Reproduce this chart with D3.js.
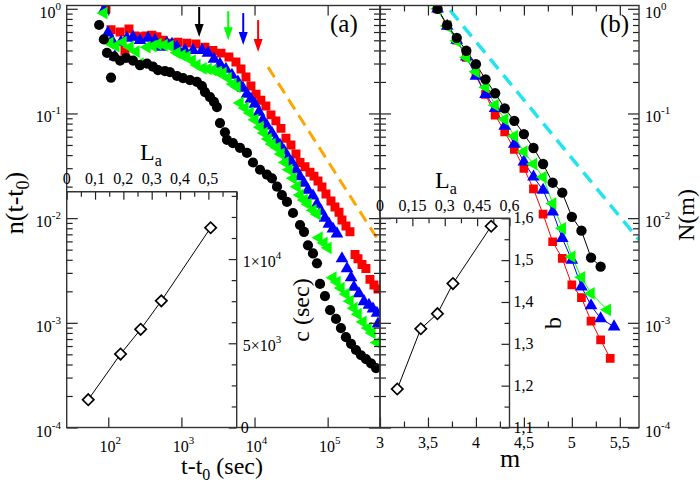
<!DOCTYPE html>
<html>
<head>
<meta charset="utf-8">
<script src="https://cdn.jsdelivr.net/npm/d3@7"></script>
<style>
    body { margin: 0; background: #fff; }
    text { font-family: "Liberation Serif", "Times New Roman", serif; fill: #000; }
</style>
</head>
<body>
<div id="chart"></div>
<script>
// panel (a): [t - t0 (sec), n(t - t0)]
const aBlack = [[75,0.70],[87,0.51],[96,0.38],[109,0.22],[120,0.35],[145,0.32],[175,0.34],[218,0.32],[271,0.29],[338,0.30],[408,0.28],[478,0.26],[596,0.254],[698,0.248],[870,0.228],[1050,0.218],[1310,0.208],[1630,0.200],[1910,0.183],[2100,0.160],[2460,0.143],[2790,0.129],[3060,0.115],[3370,0.081],[3940,0.066],[4200,0.056],[5070,0.052],[6320,0.047],[7880,0.042],[9520,0.034],[11900,0.029],[14800,0.026],[17300,0.024],[20300,0.020],[23700,0.0166],[27800,0.0143],[33600,0.0112],[41900,0.0086],[47500,0.0074],[53800,0.0055],[63000,0.0046],[71500,0.0037],[78600,0.00235],[91900,0.0018],[108000,0.00132],[130000,0.00109],[152000,0.00089],[178000,0.00073],[209000,0.00063],[244000,0.00055],[286000,0.00049],[334000,0.00045],[392000,0.00041],[459000,0.00037]];
const aGreen = [[87,0.91],[105,0.47],[127,0.44],[159,0.48],[198,0.43],[239,0.39],[271,0.30],[338,0.43],[408,0.44],[478,0.46],[578,0.45],[698,0.44],[870,0.38],[1020,0.36],[1190,0.35],[1400,0.32],[1630,0.29],[1970,0.27],[2310,0.266],[2700,0.26],[3160,0.248],[3700,0.243],[4340,0.218],[5070,0.191],[5750,0.179],[6320,0.126],[7400,0.113],[8670,0.101],[10100,0.087],[11900,0.074],[13500,0.065],[15300,0.057],[17300,0.051],[20300,0.047],[23000,0.041],[26100,0.034],[29600,0.029],[33600,0.024],[38100,0.020],[41900,0.0166],[47500,0.0149],[53800,0.0136],[63000,0.0119],[71500,0.0109],[76100,0.0065],[89100,0.0058],[101000,0.0052],[118000,0.0027],[134000,0.00245],[152000,0.00215],[178000,0.00188],[202000,0.00161],[229000,0.00138],[260000,0.00121],[304000,0.00102],[356000,0.00089],[404000,0.0008],[473000,0.00065]];
const aBlue = [[87,0.97],[99,0.59],[112,0.50],[123,0.35],[149,0.48],[180,0.525],[218,0.537],[271,0.50],[349,0.525],[435,0.50],[509,0.43],[635,0.47],[743,0.46],[870,0.43],[1120,0.40],[1440,0.40],[1910,0.40],[2310,0.377],[2790,0.331],[3370,0.296],[4060,0.266],[4910,0.233],[5930,0.200],[6950,0.175],[7880,0.153],[8930,0.137],[10100,0.123],[11500,0.103],[13000,0.087],[14800,0.076],[17300,0.065],[19600,0.056],[22300,0.050],[25300,0.044],[28700,0.038],[32500,0.034],[36900,0.029],[41900,0.025],[47500,0.0216],[53800,0.0185],[63000,0.0163],[71500,0.0136],[81100,0.0117],[91900,0.0100],[104000,0.0088],[118000,0.0079],[134000,0.0071],[157000,0.0041],[184000,0.0033],[209000,0.0027],[229000,0.0022],[268000,0.0019],[314000,0.0016],[367000,0.00148],[417000,0.00136],[473000,0.00124],[488000,0.00098]];
const aRed = [[93,1.0],[109,0.63],[145,0.60],[169,0.40],[192,0.64],[232,0.55],[271,0.54],[327,0.55],[395,0.56],[463,0.54],[559,0.50],[698,0.47],[898,0.48],[1190,0.47],[1580,0.46],[2100,0.43],[2700,0.40],[3480,0.377],[4470,0.346],[5570,0.31],[6530,0.266],[7640,0.223],[8930,0.183],[10500,0.153],[12200,0.134],[14300,0.118],[16800,0.097],[19600,0.085],[23000,0.072],[26900,0.058],[31500,0.050],[36900,0.041],[41900,0.034],[49000,0.031],[57300,0.0275],[65000,0.0252],[73800,0.0226],[83600,0.0198],[94800,0.017],[111000,0.0146],[126000,0.0128],[143000,0.0114],[157000,0.0096],[178000,0.0084],[202000,0.0074],[237000,0.0045],[260000,0.0041],[295000,0.0036],[334000,0.0033],[379000,0.0026],[430000,0.0023],[488000,0.0021]];
const aFit = [[15300,0.277],[488000,0.0062]];

// arrows in (a): t position, tail and tip heights
const arrowT = [1750, 4370, 7010, 11200];
const arrowTail = [1.04, 0.95, 0.91, 0.78];
const arrowTip = [0.537, 0.50, 0.45, 0.386];
const arrowColor = ['#000', '#00ff00', '#0000ff', '#ff0000'];

// inset (a): c vs La
const insetALa = [0.076, 0.19, 0.261, 0.334, 0.508];
const insetAc = [1650, 4360, 5830, 7520, 11860];

// panel (b): magnitude m and N(m)
const bBlackM = [3.6,3.7,3.8,3.9,4.0,4.1,4.2,4.3,4.4,4.5,4.6,4.7,4.8,4.9,5.0,5.1,5.2,5.3];
const bBlackN = [1,0.698,0.528,0.397,0.296,0.212,0.156,0.112,0.0851,0.0635,0.0468,0.0329,0.0218,0.0175,0.0103,0.00759,0.00419,0.00344];
const bGreenM = [3.6,3.7,3.8,3.9,4.0,4.1,4.2,4.3,4.4,4.5,4.6,4.7,4.8,4.9,5.0,5.1,5.2,5.37];
const bGreenN = [1,0.684,0.494,0.343,0.250,0.178,0.120,0.0879,0.0608,0.0431,0.0329,0.0247,0.0138,0.0080,0.00428,0.00272,0.00191,0.00133];
const bBlueM = [3.6,3.7,3.8,3.9,4.0,4.1,4.2,4.3,4.4,4.5,4.6,4.7,4.8,4.9,5.0,5.1,5.2,5.3,5.44];
const bBlueN = [1,0.684,0.502,0.348,0.228,0.152,0.112,0.0758,0.0510,0.0346,0.0248,0.0185,0.0115,0.00641,0.00398,0.00221,0.00146,0.00110,0.000918];
const bRedM = [3.6,3.7,3.8,3.9,4.0,4.1,4.2,4.3,4.4,4.5,4.6,4.7,4.8,4.9,5.0,5.1,5.2,5.3,5.4];
const bRedN = [1,0.698,0.502,0.343,0.238,0.152,0.0966,0.0668,0.0454,0.0299,0.0190,0.0109,0.00595,0.00413,0.00230,0.00174,0.00104,0.000686,0.000458];
const bFitM = [3.73, 5.70];
const bFitN = [0.97, 0.0062];

// inset (b): b vs La
const insetBLa = [0.080, 0.189, 0.266, 0.338, 0.515];
const insetBb = [1.192, 1.336, 1.372, 1.444, 1.581];

// tick labels
const aXTicks = [100, 1000, 10000, 100000];
const aXExp = ['2', '3', '4', '5'];
const yTicks = [1, 0.1, 0.01, 0.001, 0.0001];
const yExp = ['0', '-1', '-2', '-3', '-4'];
const insetATop = [0, 0.1, 0.2, 0.3, 0.4, 0.5];
const insetATopLab = ['0', '0,1', '0,2', '0,3', '0,4', '0,5'];
const bXTicks = [3, 3.5, 4, 4.5, 5, 5.5];
const bXLab = ['3', '3,5', '4', '4,5', '5', '5,5'];
const insetBTop = [0, 0.15, 0.3, 0.45, 0.6];
const insetBTopLab = ['0', '0,15', '0,3', '0,45', '0,6'];
const insetBRight = [1.1, 1.2, 1.3, 1.4, 1.5, 1.6];
const insetBRightLab = ['1,1', '1,2', '1,3', '1,4', '1,5', '1,6'];

const width = 700, height = 486;
const L = 66.7, MID = 380, R = 639, T = 5.5, B = 427.5;

const svg = d3.select('#chart').append('svg')
    .attr('width', width).attr('height', height);

// scales
const xa = d3.scaleLog().domain([27, 520000]).range([L, MID]);
const y = d3.scaleLog().domain([1e-4, 1.075]).range([B, T]);
const xb = d3.scaleLinear().domain([3, 5.7]).range([MID, R]);
const ixa = d3.scaleLinear().domain([0, 0.6]).range([L, 236.7]);
const iya = d3.scaleLinear().domain([0, 14000]).range([B, 191.7]);
const ixb = d3.scaleLinear().domain([0, 0.6]).range([MID, 509.5]);
const iyb = d3.scaleLinear().domain([1.1, 1.6]).range([B, 218.3]);

const minorLog = [];
[-4, -3, -2, -1].forEach(e => { for (let k = 2; k < 10; k++) minorLog.push(k * Math.pow(10, e)); });

// clip paths for the two panels
const defs = svg.append('defs');
defs.append('clipPath').attr('id', 'clipA').append('rect')
    .attr('x', L).attr('y', T).attr('width', MID - L).attr('height', B - T);
defs.append('clipPath').attr('id', 'clipB').append('rect')
    .attr('x', MID).attr('y', T).attr('width', R - MID).attr('height', B - T);

function ticks(axis, scale, vals, size, tx, ty) {
    svg.append('g')
       .attr('transform', `translate(${tx},${ty})`)
       .call(axis(scale).tickValues(vals).tickSize(size).tickSizeOuter(0).tickFormat(''))
       .call(g => g.select('.domain').remove())
       .selectAll('line')
       .attr('stroke', '#222')
       .attr('stroke-width', 1.2);
}

// power-of-ten label
function pow(x, yy, exp, anchor) {
    const t = svg.append('text').attr('x', x).attr('y', yy)
        .attr('text-anchor', anchor).style('font-size', '16px');
    t.append('tspan').text('10');
    t.append('tspan').attr('dy', -8).style('font-size', '11px').text(exp);
}

function label(x, yy, txt, anchor, size) {
    svg.append('text').attr('x', x).attr('y', yy)
       .attr('text-anchor', anchor).style('font-size', (size || 16) + 'px').text(txt);
}

// ---------- panel (a) ----------
const gA = svg.append('g').attr('clip-path', 'url(#clipA)');

gA.append('line')
  .attr('x1', xa(aFit[0][0])).attr('y1', y(aFit[0][1]))
  .attr('x2', xa(aFit[1][0])).attr('y2', y(aFit[1][1]))
  .attr('stroke', '#ffa500').attr('stroke-width', 3).attr('stroke-dasharray', '12,7');

function marks(g, data, xs, type, size, color, rot) {
    g.append('g').selectAll('path')
     .data(data)
     .enter()
     .append('path')
     .attr('d', d3.symbol().type(type).size(size))
     .attr('transform', d => `translate(${xs(d[0])},${y(d[1])}) rotate(${rot})`)
     .attr('fill', color);
}

marks(gA, aRed, xa, d3.symbolSquare, 80, '#ff0000', 0);
marks(gA, aBlue, xa, d3.symbolTriangle, 70, '#0000ff', 0);
marks(gA, aGreen, xa, d3.symbolTriangle, 70, '#00ff00', -90);
marks(gA, aBlack, xa, d3.symbolCircle, 82, '#000', 0);

// arrows
arrowT.forEach((t, i) => {
    const x = xa(t), y0 = y(arrowTail[i]), y1 = y(arrowTip[i]);
    svg.append('line').attr('x1', x).attr('x2', x).attr('y1', y0).attr('y2', y1 - 10)
       .attr('stroke', arrowColor[i]).attr('stroke-width', 2);
    svg.append('path')
       .attr('d', `M${x - 4.5},${y1 - 13}L${x + 4.5},${y1 - 13}L${x},${y1}Z`)
       .attr('fill', arrowColor[i]);
});

// inset (a)
svg.append('rect').attr('x', L).attr('y', iya.range()[1])
   .attr('width', ixa.range()[1] - L).attr('height', B - iya.range()[1])
   .attr('fill', '#fff');
svg.append('path')
   .datum(insetALa.map((v, i) => [v, insetAc[i]]))
   .attr('d', d3.line().x(d => ixa(d[0])).y(d => iya(d[1])))
   .attr('fill', 'none').attr('stroke', '#000').attr('stroke-width', 1);
svg.append('g').selectAll('path')
   .data(insetALa.map((v, i) => [v, insetAc[i]]))
   .enter()
   .append('path')
   .attr('d', d3.symbol().type(d3.symbolSquare).size(64))
   .attr('transform', d => `translate(${ixa(d[0])},${iya(d[1])}) rotate(45)`)
   .attr('fill', '#fff').attr('stroke', '#000').attr('stroke-width', 1.7);

// ---------- panel (b) ----------
const gB = svg.append('g').attr('clip-path', 'url(#clipB)');

gB.append('line')
  .attr('x1', xb(bFitM[0])).attr('y1', y(bFitN[0]))
  .attr('x2', xb(bFitM[1])).attr('y2', y(bFitN[1]))
  .attr('stroke', '#22e4f0').attr('stroke-width', 3.5).attr('stroke-dasharray', '13,8');

const bSeries = [
    [bRedM, bRedN, '#ff0000', d3.symbolSquare, 76, 0],
    [bBlueM, bBlueN, '#0000ff', d3.symbolTriangle, 70, 0],
    [bGreenM, bGreenN, '#00ff00', d3.symbolTriangle, 70, -90],
    [bBlackM, bBlackN, '#000', d3.symbolCircle, 84, 0]
];
bSeries.forEach(s => {
    const pts = s[0].map((m, i) => [m, s[1][i]]);
    gB.append('path').datum(pts)
      .attr('d', d3.line().x(d => xb(d[0])).y(d => y(d[1])))
      .attr('fill', 'none').attr('stroke', s[2]).attr('stroke-width', 1);
});
bSeries.forEach(s => {
    marks(gB, s[0].map((m, i) => [m, s[1][i]]), xb, s[3], s[4], s[2], s[5]);
});

// inset (b)
svg.append('path')
   .datum(insetBLa.map((v, i) => [v, insetBb[i]]))
   .attr('d', d3.line().x(d => ixb(d[0])).y(d => iyb(d[1])))
   .attr('fill', 'none').attr('stroke', '#000').attr('stroke-width', 1);
svg.append('g').selectAll('path')
   .data(insetBLa.map((v, i) => [v, insetBb[i]]))
   .enter()
   .append('path')
   .attr('d', d3.symbol().type(d3.symbolSquare).size(64))
   .attr('transform', d => `translate(${ixb(d[0])},${iyb(d[1])}) rotate(45)`)
   .attr('fill', '#fff').attr('stroke', '#000').attr('stroke-width', 1.7);

// ---------- axes and ticks ----------
// panel (a)
ticks(d3.axisRight, y, yTicks, 11, L, 0);
ticks(d3.axisRight, y, minorLog, 6, L, 0);
ticks(d3.axisLeft, y, yTicks, 11, MID, 0);
ticks(d3.axisLeft, y, minorLog, 6, MID, 0);
ticks(d3.axisTop, xa, aXTicks, 10, 0, B);
ticks(d3.axisBottom, xa, aXTicks, 10, 0, T);

// panel (b)
const bMinor = [3.25, 3.75, 4.25, 4.75, 5.25];
ticks(d3.axisRight, y, yTicks, 11, MID, 0);
ticks(d3.axisRight, y, minorLog, 6, MID, 0);
ticks(d3.axisLeft, y, yTicks, 11, R, 0);
ticks(d3.axisLeft, y, minorLog, 6, R, 0);
ticks(d3.axisTop, xb, bXTicks, 10, 0, B);
ticks(d3.axisTop, xb, bMinor, 6, 0, B);
ticks(d3.axisBottom, xb, bXTicks, 10, 0, T);
ticks(d3.axisBottom, xb, bMinor, 6, 0, T);

// inset (a) ticks
const iaTopMinor = [0.05, 0.15, 0.25, 0.35, 0.45, 0.55];
const iaRight = [0, 5000, 10000];
const iaRightMinor = [1250, 2500, 3750, 6250, 7500, 8750, 11250, 12500, 13750];
ticks(d3.axisBottom, ixa, insetATop.concat([0.6]), 8, 0, iya.range()[1]);
ticks(d3.axisBottom, ixa, iaTopMinor, 5, 0, iya.range()[1]);
ticks(d3.axisLeft, iya, iaRight, 8, ixa.range()[1], 0);
ticks(d3.axisLeft, iya, iaRightMinor, 5, ixa.range()[1], 0);

// inset (b) ticks
const ibTopMinor = [0.075, 0.225, 0.375, 0.525];
const ibRightMinor = [1.15, 1.25, 1.35, 1.45, 1.55];
ticks(d3.axisBottom, ixb, insetBTop, 8, 0, iyb.range()[1]);
ticks(d3.axisBottom, ixb, ibTopMinor, 5, 0, iyb.range()[1]);
ticks(d3.axisLeft, iyb, insetBRight, 8, ixb.range()[1], 0);
ticks(d3.axisLeft, iyb, ibRightMinor, 5, ixb.range()[1], 0);

// frames
const frame = svg.append('g').attr('fill', 'none').attr('stroke', '#333').attr('stroke-width', 1.4);
frame.append('rect').attr('x', L).attr('y', T).attr('width', MID - L).attr('height', B - T);
frame.append('rect').attr('x', MID).attr('y', T).attr('width', R - MID).attr('height', B - T);
frame.append('path').attr('d', `M${L},${iya.range()[1]}H${ixa.range()[1]}V${B}`);
frame.append('path').attr('d', `M${MID},${iyb.range()[1]}H${ixb.range()[1]}V${B}`);

// ---------- tick labels ----------
yTicks.forEach((v, i) => {
    pow(61, y(v) + 9, yExp[i], 'end');
    pow(645, y(v) + 9, yExp[i], 'start');
});
aXTicks.forEach((v, i) => pow(xa(v) + 2, B + 24, aXExp[i], 'middle'));
bXTicks.forEach((v, i) => label(xb(v), B + 20, bXLab[i], 'middle'));
insetATop.forEach((v, i) => label(ixa(v), iya.range()[1] - 8, insetATopLab[i], 'middle'));
insetBTop.forEach((v, i) => label(ixb(v), iyb.range()[1] - 7, insetBTopLab[i], 'middle'));
insetBRight.forEach((v, i) => label(ixb.range()[1] + 4, iyb(v) + 5, insetBRightLab[i], 'start'));

// inset (a) right labels
label(ixa.range()[1] + 4, iya(0) + 5, '0', 'start');
[[5000, '5\u00d7', '3'], [10000, '1\u00d7', '4']].forEach(d => {
    const t = svg.append('text').attr('x', ixa.range()[1] + 6).attr('y', iya(d[0]) + 8)
        .style('font-size', '16px');
    t.append('tspan').text(d[1] + '10');
    t.append('tspan').attr('dy', -8).style('font-size', '11px').text(d[2]);
});

// ---------- titles ----------
function sub(x, yy, main, s, rest, rot, anchor, size) {
    const t = svg.append('text')
        .attr('transform', `translate(${x},${yy}) rotate(${rot})`)
        .attr('text-anchor', anchor).style('font-size', size + 'px');
    t.append('tspan').text(main);
    t.append('tspan').attr('dy', 6).style('font-size', Math.round(size * 0.68) + 'px').text(s);
    if (rest) t.append('tspan').attr('dy', -6).text(rest);
}
sub(23, 203, 'n(t-t', '0', ')', -90, 'middle', 26);
sub(181, 474, 't-t', '0', ' (sec)', 0, 'start', 24);
sub(140, 160, 'L', 'a', '', 0, 'start', 24);
sub(435, 188, 'L', 'a', '', 0, 'start', 24);

svg.append('text').attr('transform', 'translate(694,215) rotate(-90)')
   .attr('text-anchor', 'middle').style('font-size', '24px').text('N(m)');
svg.append('text').attr('transform', 'translate(309,310) rotate(-90)')
   .attr('text-anchor', 'middle').style('font-size', '24px').text('c (sec)');
svg.append('text').attr('transform', 'translate(561,323) rotate(-90)')
   .attr('text-anchor', 'middle').style('font-size', '24px').text('b');
label(510, 467, 'm', 'middle', 26);
label(330, 32, '(a)', 'start', 25);
label(600, 32, '(b)', 'start', 25);
</script>
</body>
</html>
